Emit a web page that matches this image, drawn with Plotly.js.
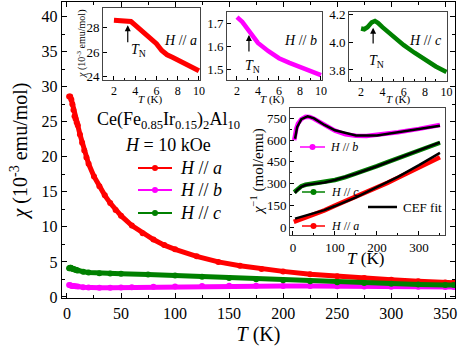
<!DOCTYPE html>
<html><head><meta charset="utf-8">
<script src="https://cdn.plot.ly/plotly-3.0.1.min.js"></script>
<style>html,body{margin:0;padding:0;background:#fff}#c{width:463px;height:348px}</style>
</head><body><div id="c"></div>
<script>
// ---- main panel: chi (1e-3 emu/mol) vs T (K)
var T_a = [2,3,4,5,6,7,8,9,10,12,14,16,18,20,25,30,35,40,45,50,60,70,80,90,100,120,140,160,180,200,225,250,275,300,325,350,358];
var chi_a = [28.6,28.6,28.2,27.5,26.7,25.8,25.4,24.9,24.5,23.2,22.0,20.9,19.9,19.0,17.2,15.8,14.5,13.4,12.4,11.6,10.2,9.1,8.2,7.4,6.8,5.8,5.0,4.45,4.0,3.65,3.25,2.95,2.7,2.45,2.25,2.08,2.03];
var T_b = [2,3,4,5,6,8,10,15,20,30,40,50,60,80,100,125,150,175,200,225,250,275,300,325,350,358];
var chi_b = [1.72,1.67,1.61,1.58,1.55,1.51,1.48,1.39,1.34,1.31,1.32,1.34,1.37,1.44,1.50,1.56,1.59,1.59,1.57,1.55,1.52,1.50,1.47,1.45,1.42,1.41];
var T_c = [2,2.5,3,3.5,4,5,6,7,8,9,10,15,20,30,40,50,75,100,125,150,175,200,225,250,275,300,325,350,358];
var chi_c = [4.10,4.10,4.15,4.15,4.11,4.04,3.98,3.92,3.87,3.82,3.79,3.60,3.50,3.40,3.35,3.30,3.20,3.05,2.88,2.70,2.54,2.38,2.23,2.10,1.99,1.88,1.79,1.72,1.70];

// ---- low-T insets
var Tl_a = [2,2.5,3,3.3,3.6,4,4.5,5,5.5,6,6.5,7,7.5,8,8.5,9,9.5,10];
var chil_a = [28.6,28.6,28.6,28.6,28.5,28.2,27.85,27.5,27.1,26.7,26.15,25.8,25.6,25.4,25.15,24.9,24.7,24.5];
var Tl_b = [2,2.5,3,3.5,4,5,6,7,8,9,10];
var chil_b = [1.725,1.705,1.675,1.645,1.615,1.58,1.55,1.53,1.513,1.495,1.478];
var Tl_c = [2,2.3,2.6,3,3.3,3.6,4,5,6,7,8,9,10];
var chil_c = [4.10,4.095,4.11,4.145,4.155,4.14,4.11,4.04,3.98,3.925,3.87,3.825,3.785];

// ---- inverse susceptibility inset (mol/emu)
var Ti_a = [2,5,10,20,30,50,75,100,125,150,175,200,225,250,275,300,325,350];
var inv_a = [35,38,42,52,63,85,115,148,178,208,240,272,305,340,375,410,445,482];
var Ti_b = [3,5,8,12,20,30,40,50,60,80,100,125,150,175,200,250,300,350];
var inv_b = [600,640,680,715,745,762,760,748,730,695,665,640,630,628,635,655,678,705];
var Ti_c = [3,5,10,20,30,50,75,100,125,150,175,200,225,250,275,300,325,350];
var inv_c = [240,245,262,282,292,300,310,325,345,368,393,420,448,475,503,530,556,582];
var Tf_a = [5,25,50,75,100,150,200,250,300,350];
var fit_a = [58,75,95,117,145,205,275,347,427,512];
var Tf_b = [5,10,20,35,50,75,100,150,200,250,300,350];
var fit_b = [610,690,745,765,750,705,668,632,632,652,677,700];
var Tf_c = [5,10,20,30,50,75,100,150,200,250,300,350];
var fit_c = [235,255,278,290,298,308,325,368,420,476,530,585];

var RED='#ff0000', MAG='#ff00ff', GRN='#008000';
var FONT='Liberation Serif, Times New Roman, serif';
var W=463,H=348,ML=62,MR=8,MT=2,MB=50;
var PW=W-ML-MR, PH=H-MT-MB;
function px(x){return (x-ML)/PW;}
function py(y){return (H-MB-y)/PH;}

var traces=[
 {x:T_a,y:chi_a,xaxis:'x',yaxis:'y',mode:'lines+markers',line:{color:RED,width:5},marker:{color:RED,size:6}},
 {x:T_b,y:chi_b,xaxis:'x',yaxis:'y',mode:'lines+markers',line:{color:MAG,width:5},marker:{color:MAG,size:6}},
 {x:T_c,y:chi_c,xaxis:'x',yaxis:'y',mode:'lines+markers',line:{color:GRN,width:5},marker:{color:GRN,size:6}},
 {x:Tl_a,y:chil_a,xaxis:'x2',yaxis:'y2',mode:'lines',line:{color:RED,width:5}},
 {x:Tl_b,y:chil_b,xaxis:'x3',yaxis:'y3',mode:'lines',line:{color:MAG,width:4.5}},
 {x:Tl_c,y:chil_c,xaxis:'x4',yaxis:'y4',mode:'lines',line:{color:GRN,width:4.5}},
 {x:Ti_a,y:inv_a,xaxis:'x5',yaxis:'y5',mode:'lines',line:{color:RED,width:4.5}},
 {x:Ti_b,y:inv_b,xaxis:'x5',yaxis:'y5',mode:'lines',line:{color:MAG,width:4.5}},
 {x:Ti_c,y:inv_c,xaxis:'x5',yaxis:'y5',mode:'lines',line:{color:GRN,width:4.5}},
 {x:Tf_a,y:fit_a,xaxis:'x5',yaxis:'y5',mode:'lines',line:{color:'#000',width:2.5}},
 {x:Tf_b,y:fit_b,xaxis:'x5',yaxis:'y5',mode:'lines',line:{color:'#000',width:2.5}},
 {x:Tf_c,y:fit_c,xaxis:'x5',yaxis:'y5',mode:'lines',line:{color:'#000',width:2.5}}
];

function ax(o){
  var b={showline:true,linecolor:'#444',linewidth:1,mirror:true,ticks:'inside',ticklen:4,tickcolor:'#000',
    showgrid:false,zeroline:false,tickfont:{family:FONT,size:13,color:'#000'},fixedrange:true};
  for(var k in o) b[k]=o[k]; return b;
}
var IXF={family:FONT,size:12,color:'#000'};

var layout={
  width:W,height:H,margin:{l:ML,r:MR,t:MT,b:MB},showlegend:false,
  paper_bgcolor:'#fff',plot_bgcolor:'#fff',font:{family:FONT,color:'#000'},
  xaxis:ax({range:[-4.6,359],tickvals:[0,50,100,150,200,250,300,350],ticklen:5,linecolor:'#000',linewidth:1.3,mirror:'ticks',
    minor:{dtick:25,tick0:0,ticks:'inside',ticklen:3,tickcolor:'#000'},tickfont:{family:FONT,size:16,color:'#000'},
    title:{text:'<i>T</i> (K)',font:{family:FONT,size:20,color:'#000'},standoff:6}}),
  yaxis:ax({range:[-0.15,42.1],tickvals:[0,5,10,15,20,25,30,35,40],ticklen:5,linecolor:'#000',linewidth:1.3,mirror:'ticks',
    minor:{dtick:2.5,tick0:0,ticks:'inside',ticklen:3,tickcolor:'#000'},tickfont:{family:FONT,size:16,color:'#000'},
    title:{text:'<i>χ</i> (10<sup>-3</sup> emu/mol)',font:{family:FONT,size:20,color:'#000'},standoff:8}}),
  xaxis2:ax({domain:[px(103),px(200)],anchor:'y2',range:[0.97,10.1],tickvals:[2,4,6,8,10],tickfont:IXF,minor:{dtick:1,ticks:'inside',ticklen:2,tickcolor:'#000'}}),
  yaxis2:ax({domain:[py(80),py(8)],anchor:'x2',range:[23.75,29.6],tickvals:[24,26,28]}),
  xaxis3:ax({domain:[px(227),px(322)],anchor:'y3',range:[1.05,10.1],tickvals:[2,4,6,8,10],tickfont:IXF,minor:{dtick:1,ticks:'inside',ticklen:2,tickcolor:'#000'}}),
  yaxis3:ax({domain:[py(80),py(12)],anchor:'x3',range:[1.457,1.747],tickvals:[1.5,1.6,1.7],tickformat:'.1f'}),
  xaxis4:ax({domain:[px(349),px(447)],anchor:'y4',range:[0.87,10.05],tickvals:[2,4,6,8,10],tickfont:IXF,minor:{dtick:1,ticks:'inside',ticklen:2,tickcolor:'#000'}}),
  yaxis4:ax({domain:[py(81),py(12)],anchor:'x4',range:[3.72,4.22],tickvals:[3.8,4.0,4.2],tickformat:'.1f'}),
  xaxis5:ax({domain:[px(290),px(445)],anchor:'y5',range:[-7,362],tickvals:[0,100,200,300],minor:{dtick:50,ticks:'inside',ticklen:2,tickcolor:'#000'}}),
  yaxis5:ax({domain:[py(235),py(108)],anchor:'x5',range:[-55,822],tickvals:[0,150,300,450,600,750],minor:{dtick:75,ticks:'inside',ticklen:2,tickcolor:'#000'}}),
  shapes:[],annotations:[]
};

function txt(x,y,t,size,opt){
  var a={xref:'paper',yref:'paper',x:px(x),y:py(y),text:t,showarrow:false,font:{family:FONT,size:size,color:'#000'},xanchor:'center',yanchor:'middle'};
  if(opt) for(var k in opt) a[k]=opt[k];
  layout.annotations.push(a);
}
function legLine(x0,x1,y,col,dot,w){
  layout.shapes.push({type:'line',xref:'paper',yref:'paper',x0:px(x0),x1:px(x1),y0:py(y),y1:py(y),line:{color:col,width:w||2}});
  if(dot){var xc=(x0+x1)/2;
    layout.shapes.push({type:'circle',xref:'paper',yref:'paper',x0:px(xc-3),x1:px(xc+3),y0:py(y+3),y1:py(y-3),fillcolor:col,line:{color:col,width:0}});}
}

// main legend
txt(168,121,'Ce(Fe<sub>0.85</sub>Ir<sub>0.15</sub>)<sub>2</sub>Al<sub>10</sub>',18);
txt(168,145,'<i>H</i> = 10 kOe',18);
legLine(138,172,168,RED,true); txt(178,168,'<i>H</i> // <i>a</i>',18,{xanchor:'left'});
legLine(138,172,190,MAG,true); txt(178,190,'<i>H</i> // <i>b</i>',18,{xanchor:'left'});
legLine(138,172,213,GRN,true); txt(178,213,'<i>H</i> // <i>c</i>',18,{xanchor:'left'});

// inset titles
txt(180,40,'<i>H</i> // <i>a</i>',14);
txt(300,40,'<i>H</i> // <i>b</i>',14);
txt(425,40,'<i>H</i> // <i>c</i>',14);
txt(150,100,'<i>T</i> (K)',11);
txt(272,100,'<i>T</i> (K)',11);
txt(398,100,'<i>T</i> (K)',11);
txt(81,44,'<i>χ</i> (10<sup>-3</sup> emu/mol)',10,{textangle:-90});
txt(365,258,'<i>T</i> (K)',17);
txt(257,172,'<i>χ</i><sup>−1</sup> (mol/emu)',15,{textangle:-90});

// T_N arrows
function tn(xa,ya,xt,xl,yl){
  layout.annotations.push({xref:xa,yref:ya,x:xt[0],y:xt[1],ax:xt[0],ay:xt[2],axref:xa,ayref:ya,text:'',showarrow:true,arrowhead:2,arrowsize:1,arrowwidth:1.2,arrowcolor:'#000'});
  layout.annotations.push({xref:xa,yref:ya,x:xl,y:yl,text:'<i>T</i><sub>N</sub>',showarrow:false,font:{family:FONT,size:14,color:'#000'}});
}
tn('x2','y2',[3.3,28.2,26.7],4.3,26.15);
tn('x3','y3',[3.14,1.649,1.572],3.45,1.515);
tn('x4','y4',[3.13,4.105,3.98],3.4,3.862);

// inverse inset legend
legLine(300,325,147,MAG,true,1.5); txt(328,147,'<i>H</i> // <i>b</i>',12,{xanchor:'left'});
legLine(302,325,192,GRN,true,1.5); txt(329,192,'<i>H</i> // <i>c</i>',12,{xanchor:'left'});
legLine(368,397,207,'#000',false,2.5); txt(401,207,'CEF fit',13,{xanchor:'left'});
legLine(302,325,226,RED,true,1.5); txt(329,226,'<i>H</i> // <i>a</i>',12,{xanchor:'left'});

Plotly.newPlot('c',traces,layout,{staticPlot:true,displayModeBar:false});
</script></body></html>
